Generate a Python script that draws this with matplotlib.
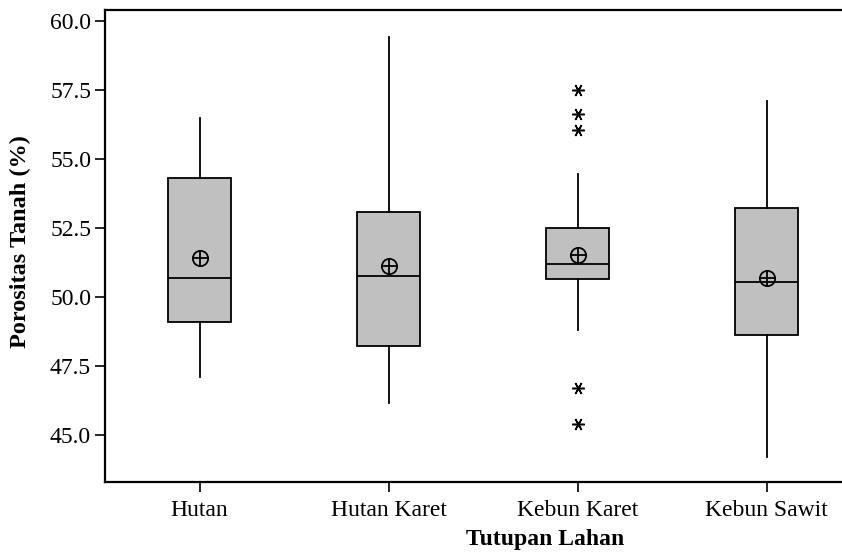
import matplotlib
matplotlib.use("Agg")
import matplotlib.pyplot as plt

categories = ["Hutan", "Hutan Karet", "Kebun Karet", "Kebun Sawit"]
whisker_low = [47.13, 46.17, 48.83, 44.20]
q1 = [49.10, 48.25, 50.68, 48.65]
median = [50.71, 50.78, 51.19, 50.56]
q3 = [54.33, 53.10, 52.52, 53.25]
whisker_high = [56.50, 59.43, 54.46, 57.10]
means = [51.42, 51.15, 51.55, 50.69]
outliers = [[], [], [57.51, 56.63, 56.06, 46.73, 45.42], []]
yticks = [45.0, 47.5, 50.0, 52.5, 55.0, 57.5, 60.0]

plt.rcParams['font.family'] = ['Liberation Serif', 'DejaVu Serif']

fig = plt.figure(figsize=(8.42, 5.53), dpi=100)
ax = fig.add_axes([105/842, 1 - 482/553, 756/842, (482 - 10)/553])

stats = []
for i, c in enumerate(categories):
    stats.append(dict(label=c, whislo=whisker_low[i], q1=q1[i], med=median[i],
                      q3=q3[i], whishi=whisker_high[i], mean=means[i], fliers=[]))

positions = list(range(1, len(categories) + 1))
ax.bxp(stats, positions=positions, widths=0.33, patch_artist=True,
       showcaps=False, showfliers=False, showmeans=False,
       boxprops=dict(facecolor="#C0C0C0", edgecolor="black", linewidth=1.3),
       medianprops=dict(color="black", linewidth=1.3),
       whiskerprops=dict(color="black", linewidth=1.3))

# mean symbols (circle with cross)
ax.plot(positions, means, linestyle="none", marker="o", markersize=11,
        markerfacecolor="none", markeredgecolor="black", markeredgewidth=1.3, zorder=5)
ax.plot(positions, means, linestyle="none", marker="+", markersize=11,
        markeredgecolor="black", markeredgewidth=1.3, zorder=5)

# outliers
for p, vals in zip(positions, outliers):
    if vals:
        ax.plot([p] * len(vals), vals, linestyle="none", marker=(6, 2, 90),
                markersize=9, markeredgecolor="black", markeredgewidth=1.1, zorder=5)

ax.set_xlim(0.5, 4.5)
ax.set_ylim(43.31, 60.41)
ax.set_yticks(yticks)
ax.set_yticklabels([f"{t:.1f}" for t in yticks])
ax.set_xticks(positions)
ax.set_xticklabels(categories)
ax.tick_params(axis="both", direction="out", length=7, width=1.2, labelsize=17)
ax.tick_params(axis="y", pad=3)
ax.tick_params(axis="x", pad=6)

for s in ["left", "bottom", "top", "right"]:
    ax.spines[s].set_linewidth(1.6)

ax.set_xlabel("Tutupan Lahan", fontsize=17, fontweight="bold", va="center")
ax.set_ylabel("Porositas Tanah (%)", fontsize=17.5, fontweight="bold", va="center")
ax.xaxis.set_label_coords((545 - 105) / 756, -(539 - 482) / 472)
ax.yaxis.set_label_coords(-(105 - 20) / 756, (482 - 242) / 472)

fig.savefig("out.png", dpi=100)
